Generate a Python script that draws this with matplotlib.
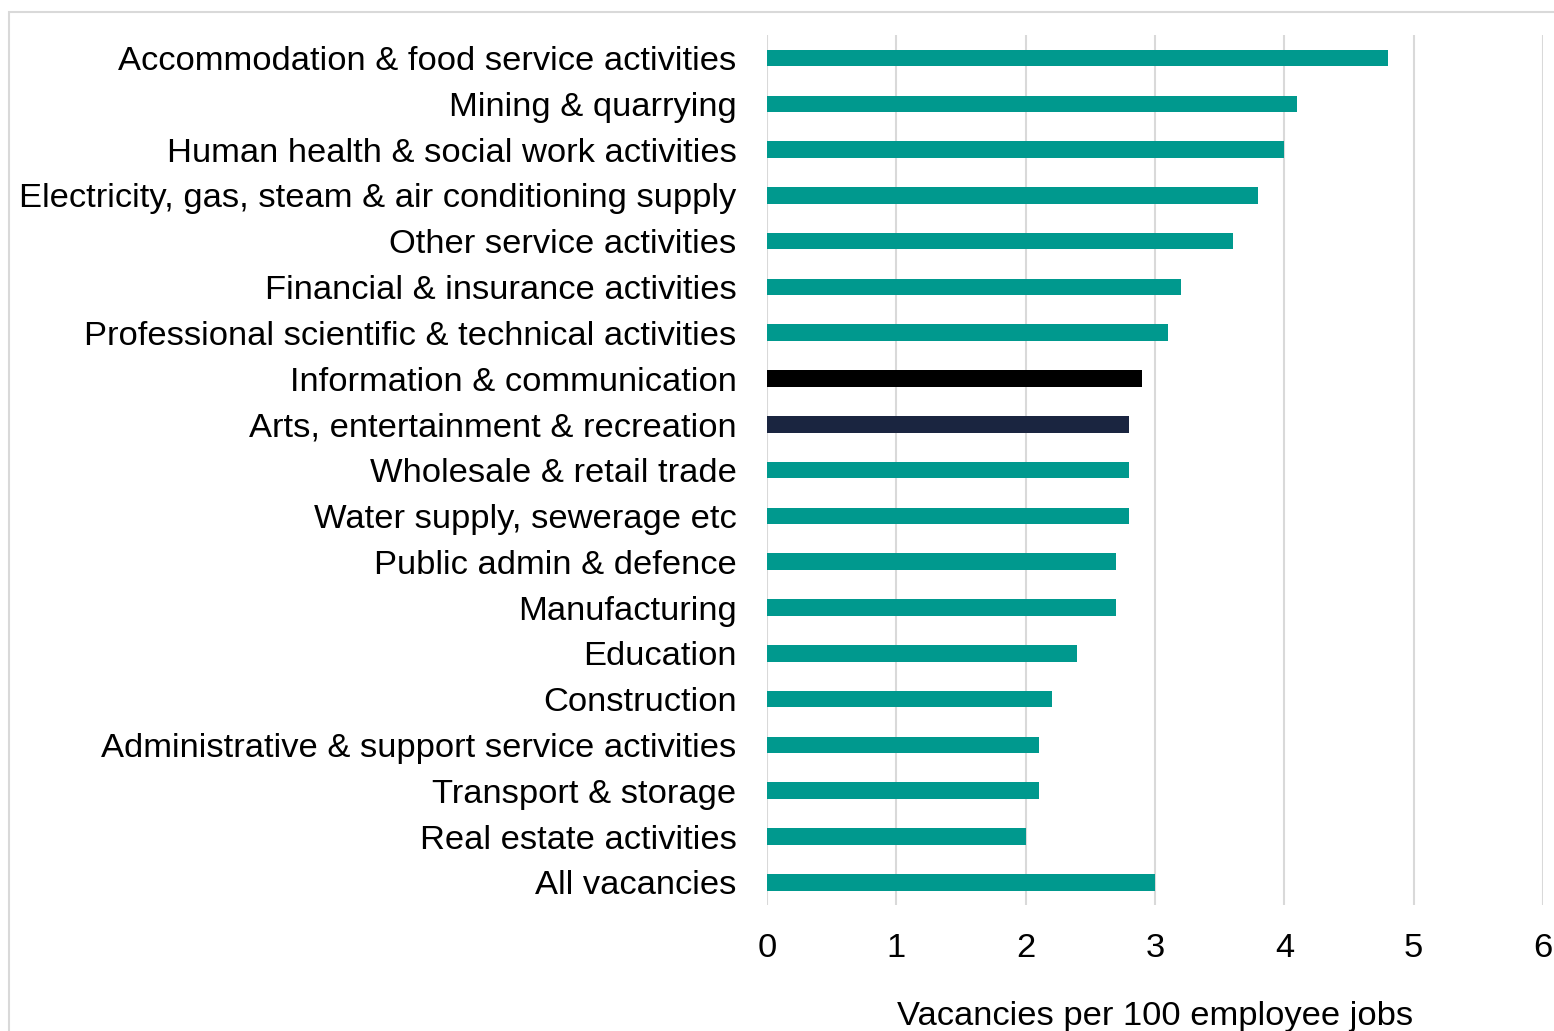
import matplotlib.pyplot as plt
from matplotlib.patches import Rectangle

plt.rcParams['font.family'] = ['Liberation Sans', 'DejaVu Sans']

industries = [
    "Accommodation & food service activities",
    "Mining & quarrying",
    "Human health & social work activities",
    "Electricity, gas, steam & air conditioning supply",
    "Other service activities",
    "Financial & insurance activities",
    "Professional scientific & technical activities",
    "Information & communication",
    "Arts, entertainment & recreation",
    "Wholesale & retail trade",
    "Water supply, sewerage etc",
    "Public admin & defence",
    "Manufacturing",
    "Education",
    "Construction",
    "Administrative & support service activities",
    "Transport & storage",
    "Real estate activities",
    "All vacancies",
]
vacancies = [4.8, 4.1, 4.0, 3.8, 3.6, 3.2, 3.1, 2.9, 2.8, 2.8, 2.8, 2.7, 2.7,
             2.4, 2.2, 2.1, 2.1, 2.0, 3.0]

teal = "#00998e"
colours = [teal] * len(industries)
colours[industries.index("Information & communication")] = "#000000"
colours[industries.index("Arts, entertainment & recreation")] = "#1a2540"

fig = plt.figure(figsize=(15.54, 10.31), dpi=100)
ax = fig.add_axes([0.4936, 0.122, 0.4993, 0.844])

pos = list(range(len(industries)))
ax.barh(pos, vacancies, height=0.36, color=colours, zorder=3)

ax.set_xlim(0, 6)
ax.set_ylim(len(industries) - 0.5, -0.5)
ax.set_yticks(pos)
ax.set_yticklabels(industries, fontsize=24.8)
ax.set_xticks(range(7))
ax.tick_params(axis='x', labelsize=24.8, length=0, pad=20)
ax.tick_params(axis='y', length=0, pad=22)
ax.grid(axis='x', color='#d9d9d9', linewidth=1.5, zorder=0)
for s in ax.spines.values():
    s.set_visible(False)

ax.set_xlabel("Vacancies per 100 employee jobs", fontsize=24.8)
ax.xaxis.label.set_va('center')
ax.xaxis.set_label_coords(0.5, -0.128)

# thin frame round the chart area
fig.patches.append(Rectangle((9 / 1554, -0.05), 1.1, 1 - 12 / 1031 + 0.05,
                             transform=fig.transFigure, fill=False,
                             edgecolor='#d9d9d9', linewidth=1.5))

fig.savefig("out.png", dpi=100)
